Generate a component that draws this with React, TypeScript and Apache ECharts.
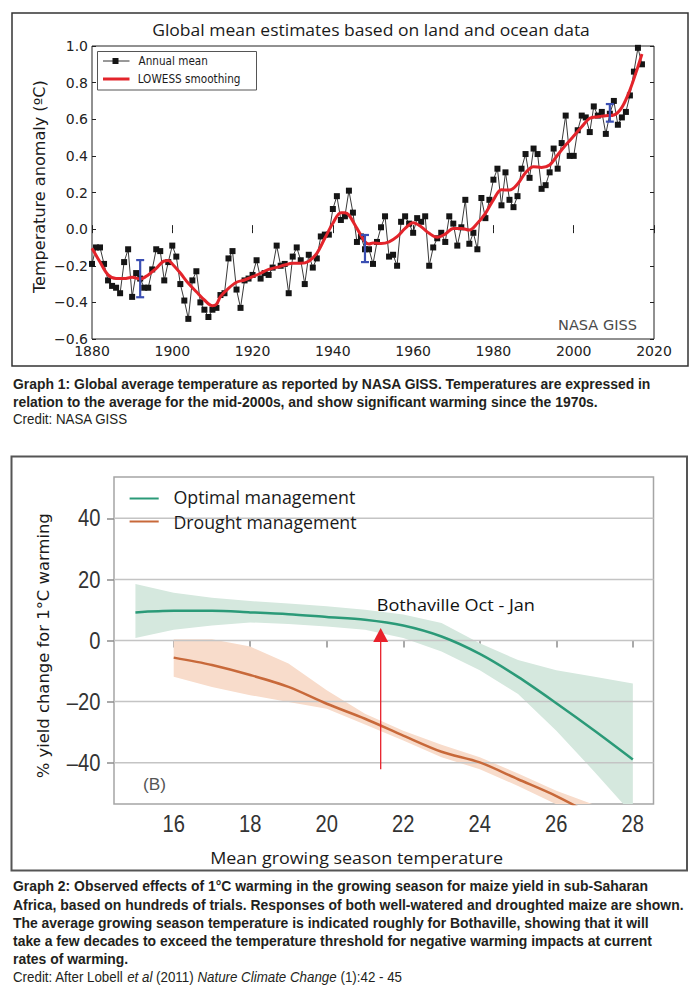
import React, { useEffect, useRef } from 'react';
import * as echarts from 'echarts';

// ---------- Graph 1 data (NASA GISS) ----------
const firstYear = 1880;
const annualMean = [
  -0.19, -0.10, -0.10, -0.19, -0.28, -0.31, -0.32, -0.35, -0.18, -0.11,
  -0.37, -0.24, -0.27, -0.32, -0.32, -0.22, -0.11, -0.12, -0.28, -0.18,
  -0.09, -0.15, -0.30, -0.39, -0.49, -0.28, -0.23, -0.40, -0.44, -0.48,
  -0.44, -0.43, -0.36, -0.35, -0.16, -0.12, -0.33, -0.43, -0.28, -0.27,
  -0.25, -0.17, -0.27, -0.24, -0.25, -0.21, -0.09, -0.20, -0.19, -0.35,
  -0.15, -0.10, -0.17, -0.30, -0.14, -0.21, -0.16, -0.04, -0.03, -0.03,
  0.11, 0.18, 0.05, 0.07, 0.21, 0.09, -0.07, -0.04, -0.11, -0.11,
  -0.19, -0.07, 0.01, 0.07, -0.15, -0.14, -0.20, 0.04, 0.07, 0.03,
  -0.02, 0.06, 0.04, 0.07, -0.20, -0.10, -0.05, -0.02, -0.07, 0.07,
  0.03, -0.09, 0.01, 0.16, -0.08, -0.02, -0.11, 0.17, 0.06, 0.16,
  0.27, 0.33, 0.13, 0.31, 0.16, 0.12, 0.18, 0.33, 0.41, 0.28,
  0.44, 0.41, 0.22, 0.24, 0.31, 0.44, 0.33, 0.47, 0.62, 0.40,
  0.40, 0.54, 0.62, 0.61, 0.53, 0.67, 0.62, 0.64, 0.52, 0.63,
  0.70, 0.57, 0.61, 0.64, 0.73, 0.86, 0.99, 0.90,
];
const lowessYears = [
  1880, 1882, 1884, 1886, 1888, 1890, 1892, 1894, 1896, 1898, 1899, 1900, 1902, 1904, 1906, 1908,
  1910, 1911, 1912, 1914, 1916, 1918, 1920, 1922, 1924, 1926, 1928, 1930, 1932, 1934, 1936, 1938,
  1940, 1942, 1943, 1944, 1946, 1948, 1949, 1950, 1952, 1954, 1956, 1958, 1960, 1962, 1964, 1966,
  1968, 1970, 1972, 1974, 1976, 1978, 1980, 1982, 1984, 1986, 1988, 1990, 1992, 1994, 1996, 1998,
  2000, 2002, 2004, 2006, 2008, 2010, 2012, 2014, 2016, 2017,
];
const lowessValues = [
  -0.105, -0.18, -0.25, -0.27, -0.27, -0.263, -0.272, -0.25, -0.214, -0.174, -0.172, -0.19, -0.24, -0.296, -0.342, -0.387,
  -0.418, -0.41, -0.369, -0.323, -0.29, -0.278, -0.26, -0.241, -0.22, -0.209, -0.196, -0.187, -0.187, -0.175, -0.132, -0.05,
  0.032, 0.09, 0.09, 0.077, 0.004, -0.069, -0.081, -0.076, -0.078, -0.069, -0.041, 0.004, 0.035, 0.013, -0.023, -0.045,
  -0.027, 0.004, 0.004, -0.005, 0.032, 0.086, 0.16, 0.215, 0.213, 0.246, 0.308, 0.341, 0.337, 0.35, 0.405, 0.459,
  0.508, 0.559, 0.605, 0.614, 0.619, 0.623, 0.665, 0.76, 0.887, 0.956,
];
const errorYears = [1892, 1948, 2009];
const errorLow = [-0.372, -0.18, 0.587];
const errorHigh = [-0.169, -0.032, 0.683];
const yearTicksMin = 1880;
const yearTicksMax = 2020;
const anomalyMin = -0.6;
const anomalyMax = 1.0;

// ---------- Graph 2 data (Lobell et al. 2011) ----------
const tempX = [15, 16, 17, 18, 19, 20, 21, 22, 23, 24, 25, 26, 27, 28];
const optimalY = [9.2, 9.7, 9.7, 9.2, 8.6, 7.7, 6.8, 4.9, 1.3, -4.4, -11.9, -20.5, -29.5, -38.9];
const optimalUpper = [18.5, 15.6, 14.0, 12.9, 12.1, 11.2, 10.1, 8.5, 5.7, -0.9, -6.4, -9.7, -11.9, -14.1];
const optimalLower = [0.8, 3.5, 4.9, 5.9, 5.4, 4.6, 3.5, 0.8, -3.6, -9.7, -17.5, -29.5, -43.0, -57.0];
const droughtX = [16, 17, 18, 19, 20, 21, 22, 23, 24, 25, 26, 27];
const droughtY = [-5.6, -8.0, -11.3, -15.2, -20.7, -25.6, -31.1, -36.4, -39.9, -45.4, -50.9, -57.5];
const droughtUpper = [0.4, 0.4, -2.0, -7.5, -16.3, -24.0, -29.5, -34.1, -38.2, -43.5, -49.2, -53.8];
const droughtLower = [-11.9, -15.2, -17.9, -20.1, -22.3, -27.5, -32.7, -38.2, -42.1, -47.6, -53.6, -60.0];
const tempTicks = [16, 18, 20, 22, 24, 26, 28];
const yieldTicks = [-40, -20, 0, 20, 40];
const arrowPoint = [21.41, -42.1, 4.1];
const tempMin = 14.44;
const tempMax = 28.54;
const yieldMin = -53.5;
const yieldMax = 53.5;

// ---------- fonts ----------
const F_CAP = "'Liberation Sans Narrow', 'Liberation Sans', Arial, sans-serif";
const F_OPEN = "'Open Sans', 'Noto Sans', sans-serif";
const F_DJ = "'DejaVu Sans', sans-serif";
const F_DJC = "'DejaVu Sans Condensed', 'DejaVu Sans', sans-serif";

let mctx: CanvasRenderingContext2D | null = null;
function measure(text: string, font: string): number {
  if (!mctx) mctx = document.createElement('canvas').getContext('2d');
  if (!mctx) return 1;
  mctx.font = font;
  return mctx.measureText(text).width || 1;
}

type TextOpts = {
  text: string;
  x: number;
  y: number;
  size: number;
  family: string;
  weight?: string;
  width?: number;
  scale?: number;
  align?: 'left' | 'center' | 'right';
  color?: string;
  rotation?: number;
  rich?: any;
  plain?: string;
};
function fontOf(o: TextOpts) {
  return `normal ${o.weight || 'normal'} ${o.size}px ${o.family}`;
}
function textEl(o: TextOpts) {
  const weight = o.weight || 'normal';
  const s = o.scale != null ? o.scale : (o.width || 1) / measure(o.plain || o.text, fontOf(o));
  const align = o.align || 'left';
  return {
    type: 'text',
    x: o.x,
    y: o.y,
    rotation: o.rotation || 0,
    scaleX: s,
    scaleY: 1,
    silent: true,
    z: 100,
    style: {
      text: o.text,
      x: 0,
      y: 0,
      fontSize: o.size,
      fontFamily: o.family,
      fontWeight: weight,
      fill: o.color || '#222',
      align,
      verticalAlign: 'middle',
      textAlign: align,
      textVerticalAlign: 'middle',
      rich: o.rich,
    },
  };
}

// caption lines: [text, y, target right-edge width]
const caption1Bold = [
  ['Graph 1: Global average temperature as reported by NASA GISS. Temperatures are expressed in', 384.3, 644],
  ['relation to the average for the mid-2000s, and show significant warming since the 1970s.', 402.3, 591],
];
const caption2Bold = [
  ['Graph 2: Observed effects of 1°C warming in the growing season for maize yield in sub-Saharan', 886, 637],
  ['Africa, based on hundreds of trials. Responses of both well-watered and droughted maize are shown.', 904.5, 675],
  ['The average growing season temperature is indicated roughly for Bothaville, showing that it will', 923, 621],
  ['take a few decades to exceed the temperature threshold for negative warming impacts at current', 941, 639],
  ['rates of warming.', 959, 0],
];

function buildOption() {
  const capColor = '#231f20';
  const capX = 13;
  const capSize = 14;
  const boldFont = `normal bold ${capSize}px ${F_CAP}`;
  const regFont = `normal normal ${capSize}px ${F_CAP}`;
  let tw = 0;
  let mw = 0;
  [...caption1Bold, ...caption2Bold].forEach((l) => {
    if ((l[2] as number) > 0) {
      tw += l[2] as number;
      mw += measure(l[0] as string, boldFont);
    }
  });
  const boldScale = tw / mw;
  const credit1 = 'Credit: NASA GISS';
  const credit2Plain = 'Credit: After Lobell et al (2011) Nature Climate Change (1):42 - 45';
  const regScale = (114 + 390) / (measure(credit1, regFont) + measure(credit2Plain, regFont));

  const graphics: any[] = [
    // frames
    { type: 'rect', shape: { x: 12, y: 13, width: 676, height: 353 }, style: { fill: 'none', stroke: '#333', lineWidth: 1.5 }, silent: true, z: 0 },
    { type: 'rect', shape: { x: 11.5, y: 456.5, width: 675.5, height: 414 }, style: { fill: 'none', stroke: '#555', lineWidth: 2 }, silent: true, z: 0 },
    // graph 1 title & axis name
    textEl({ text: 'Global mean estimates based on land and ocean data', x: 371, y: 29.5, size: 17, family: F_OPEN, width: 438, align: 'center', color: '#1a1a1a' }),
    textEl({ text: 'Temperature anomaly (ºC)', x: 39.3, y: 186.7, size: 16, family: F_DJ, width: 213, align: 'center', color: '#1a1a1a', rotation: Math.PI / 2 }),
    textEl({ text: 'NASA GISS', x: 597.5, y: 325, size: 14.5, family: F_DJ, width: 79, align: 'center', color: '#4a4a4a' }),
    // graph 1 legend
    { type: 'rect', shape: { x: 97.5, y: 51.5, width: 159, height: 38.5 }, style: { fill: '#fff', stroke: '#555', lineWidth: 1 }, silent: true, z: 90 },
    { type: 'line', shape: { x1: 103, y1: 61, x2: 129.5, y2: 61 }, style: { stroke: '#333', lineWidth: 1 }, silent: true, z: 95 },
    { type: 'rect', shape: { x: 112.5, y: 58, width: 6, height: 6 }, style: { fill: '#151515' }, silent: true, z: 96 },
    { type: 'line', shape: { x1: 103, y1: 79, x2: 129.5, y2: 79 }, style: { stroke: '#e3242b', lineWidth: 3 }, silent: true, z: 95 },
    textEl({ text: 'Annual mean', x: 138.6, y: 61, size: 11.5, family: F_DJC, width: 69.3, color: '#1a1a1a' }),
    textEl({ text: 'LOWESS smoothing', x: 137.7, y: 79, size: 11.5, family: F_DJC, width: 102.8, color: '#1a1a1a' }),
    // graph 1 caption
    ...caption1Bold.map((l) => textEl({ text: l[0] as string, x: capX, y: l[1] as number, size: capSize, family: F_CAP, weight: 'bold', scale: boldScale, color: capColor })),
    textEl({ text: credit1, x: capX, y: 419.5, size: capSize, family: F_CAP, scale: regScale, color: capColor }),
    // graph 2 legend
    { type: 'line', shape: { x1: 129.6, y1: 498.5, x2: 158.7, y2: 498.5 }, style: { stroke: '#2b9a78', lineWidth: 2 }, silent: true, z: 95 },
    { type: 'line', shape: { x1: 129.6, y1: 521.5, x2: 158.7, y2: 521.5 }, style: { stroke: '#c8693a', lineWidth: 2 }, silent: true, z: 95 },
    textEl({ text: 'Optimal management', x: 173.4, y: 497, size: 18, family: F_OPEN, width: 182, color: '#1a1a1a' }),
    textEl({ text: 'Drought management', x: 173.4, y: 522, size: 18, family: F_OPEN, width: 183.3, color: '#1a1a1a' }),
    textEl({ text: 'Bothaville Oct - Jan', x: 376.8, y: 604, size: 17, family: F_OPEN, width: 158.2, color: '#111' }),
    textEl({ text: '(B)', x: 154.5, y: 785, size: 16, family: F_CAP, width: 23, align: 'center', color: '#555' }),
    textEl({ text: 'Mean growing season temperature', x: 356.6, y: 857, size: 17, family: F_OPEN, width: 293, align: 'center', color: '#1a1a1a' }),
    textEl({ text: '% yield change for 1°C warming', x: 43.4, y: 645.8, size: 16.4, family: F_DJ, width: 265, align: 'center', color: '#1a1a1a', rotation: Math.PI / 2 }),
    // graph 2 caption
    ...caption2Bold.map((l) => textEl({ text: l[0] as string, x: capX, y: l[1] as number, size: capSize, family: F_CAP, weight: 'bold', scale: boldScale, color: capColor })),
    textEl({
      text: 'Credit: After Lobell {i|et al} (2011) {i|Nature Climate Change} (1):42 - 45',
      x: capX, y: 977, size: capSize, family: F_CAP, scale: regScale, color: capColor,
      rich: { i: { fontStyle: 'italic', fontSize: capSize, fontFamily: F_CAP, fill: capColor } },
    }),
  ];

  const g1Tick = { inside: true, length: 4, lineStyle: { color: '#222', width: 1 } };
  const g2Tick = { inside: false, length: 7, lineStyle: { color: '#8c8c8c', width: 1.5 } };
  const tickLabelScale = 0.84;

  const band = (xs: number[], lo: number[], hi: number[], fill: string, name: string) => ({
    type: 'custom',
    name,
    xAxisIndex: 2,
    yAxisIndex: 2,
    clip: true,
    silent: true,
    z: 1,
    data: xs.map((x, i) => [x, lo[i], hi[i]]),
    encode: { x: 0, y: [1, 2] },
    renderItem: (params: any, api: any) => {
      if (params.dataIndex !== 0) return null;
      const pts: number[][] = [];
      for (let i = 0; i < xs.length; i++) pts.push(api.coord([xs[i], hi[i]]));
      for (let i = xs.length - 1; i >= 0; i--) pts.push(api.coord([xs[i], lo[i]]));
      return { type: 'polygon', shape: { points: pts }, style: { fill } };
    },
  });

  return {
    animation: false,
    backgroundColor: '#ffffff',
    grid: [
      { left: 92, top: 46, width: 562, height: 293, show: true, borderColor: '#222', borderWidth: 1, backgroundColor: 'transparent' },
      { left: 114, top: 477, width: 539.5, height: 327, show: true, borderColor: '#a5a5a5', borderWidth: 1.5, backgroundColor: 'transparent' },
    ],
    xAxis: [
      {
        type: 'value', gridIndex: 0, min: yearTicksMin, max: yearTicksMax, interval: 20, position: 'bottom',
        axisLine: { show: false }, axisTick: g1Tick, splitLine: { show: false },
        axisLabel: { fontFamily: F_DJ, fontSize: 14, color: '#222', margin: 5, formatter: (v: number) => String(v) },
      },
      {
        type: 'value', gridIndex: 0, min: yearTicksMin, max: yearTicksMax, interval: 20, position: 'top',
        axisLine: { show: false }, axisTick: g1Tick, splitLine: { show: false }, axisLabel: { show: false },
      },
      {
        type: 'value', gridIndex: 1, min: tempMin, max: tempMax, position: 'bottom',
        axisLine: { show: false }, splitLine: { show: false },
        axisTick: { ...g2Tick, customValues: tempTicks },
        axisLabel: { show: false },
      },
    ],
    yAxis: [
      {
        type: 'value', gridIndex: 0, min: anomalyMin, max: anomalyMax, interval: 0.2, position: 'left',
        axisLine: { show: false }, axisTick: g1Tick, splitLine: { show: false },
        axisLabel: {
          fontFamily: F_DJ, fontSize: 14, color: '#222', margin: 4,
          formatter: (v: number) => v.toFixed(1).replace('-', '\u2212'),
        },
      },
      {
        type: 'value', gridIndex: 0, min: anomalyMin, max: anomalyMax, interval: 0.2, position: 'right',
        axisLine: { show: false }, axisTick: g1Tick, splitLine: { show: false }, axisLabel: { show: false },
      },
      {
        type: 'value', gridIndex: 1, min: yieldMin, max: yieldMax, position: 'left',
        axisLine: { show: false }, splitLine: { show: false },
        axisTick: { ...g2Tick, customValues: yieldTicks },
        axisLabel: { show: false },
      },
    ],
    graphic: graphics,
    series: [
      {
        type: 'line', name: 'Annual mean', xAxisIndex: 0, yAxisIndex: 0,
        data: annualMean.map((v, i) => [firstYear + i, v]),
        symbol: 'rect', symbolSize: 6, showSymbol: true,
        itemStyle: { color: '#151515' }, lineStyle: { color: '#3a3a3a', width: 1 }, z: 2, silent: true,
      },
      {
        type: 'line', name: 'LOWESS smoothing', xAxisIndex: 0, yAxisIndex: 0,
        data: lowessYears.map((y, i) => [y, lowessValues[i]]),
        smooth: 0.35, symbol: 'none', showSymbol: false,
        lineStyle: { color: '#e3242b', width: 3 }, z: 3, silent: true,
      },
      {
        type: 'custom', name: 'Uncertainty', xAxisIndex: 0, yAxisIndex: 0, z: 4, silent: true,
        data: errorYears.map((y, i) => [y, errorLow[i], errorHigh[i]]),
        encode: { x: 0, y: [1, 2] },
        renderItem: (params: any, api: any) => {
          const lo = api.coord([api.value(0), api.value(1)]);
          const hi = api.coord([api.value(0), api.value(2)]);
          const cw = 4;
          const st = { stroke: '#3b4fb3', lineWidth: 2.2 };
          return {
            type: 'group',
            children: [
              { type: 'line', shape: { x1: lo[0], y1: lo[1], x2: hi[0], y2: hi[1] }, style: st },
              { type: 'line', shape: { x1: lo[0] - cw, y1: lo[1], x2: lo[0] + cw, y2: lo[1] }, style: st },
              { type: 'line', shape: { x1: hi[0] - cw, y1: hi[1], x2: hi[0] + cw, y2: hi[1] }, style: st },
            ],
          };
        },
      },
      band(tempX, optimalLower, optimalUpper, '#d5e8de', 'Optimal band'),
      band(droughtX, droughtLower, droughtUpper, '#f8dccb', 'Drought band'),
      {
        type: 'custom', name: 'Gridlines', xAxisIndex: 2, yAxisIndex: 2, z: 2, silent: true,
        data: yieldTicks.map((v) => [tempX[0], v]),
        encode: { x: 0, y: 1 },
        renderItem: (params: any, api: any) => {
          const cs = params.coordSys;
          const p = api.coord([api.value(0), api.value(1)]);
          return {
            type: 'line',
            shape: { x1: cs.x, y1: p[1], x2: cs.x + cs.width, y2: p[1] },
            style: { stroke: '#c4c4c4', lineWidth: 1.5 },
          };
        },
      },
      {
        type: 'custom', name: 'Temperature labels', xAxisIndex: 2, yAxisIndex: 2, z: 5, silent: true, clip: false,
        data: tempTicks.map((t) => [t, yieldMin]),
        encode: { x: 0, y: 1 },
        renderItem: (params: any, api: any) => {
          const p = api.coord([api.value(0), api.value(1)]);
          return {
            type: 'text', x: p[0], y: p[1] + 19.5, scaleX: tickLabelScale,
            style: { text: String(api.value(0)), fontSize: 24, fontFamily: F_CAP, fill: '#333', align: 'center', verticalAlign: 'middle', textAlign: 'center', textVerticalAlign: 'middle' },
          };
        },
      },
      {
        type: 'custom', name: 'Yield labels', xAxisIndex: 2, yAxisIndex: 2, z: 5, silent: true, clip: false,
        data: yieldTicks.map((v) => [tempMin, v]),
        encode: { x: 0, y: 1 },
        renderItem: (params: any, api: any) => {
          const p = api.coord([api.value(0), api.value(1)]);
          const v = api.value(1);
          return {
            type: 'text', x: p[0] - 13.5, y: p[1], scaleX: tickLabelScale,
            style: { text: v < 0 ? '\u2013' + Math.abs(v) : String(v), fontSize: 24, fontFamily: F_CAP, fill: '#333', align: 'right', verticalAlign: 'middle', textAlign: 'right', textVerticalAlign: 'middle' },
          };
        },
      },
      {
        type: 'line', name: 'Optimal management', xAxisIndex: 2, yAxisIndex: 2,
        data: tempX.map((x, i) => [x, optimalY[i]]), smooth: 0.3, symbol: 'none',
        lineStyle: { color: '#2b9a78', width: 2.5 }, z: 3, silent: true, clip: true,
      },
      {
        type: 'line', name: 'Drought management', xAxisIndex: 2, yAxisIndex: 2,
        data: droughtX.map((x, i) => [x, droughtY[i]]), smooth: 0.3, symbol: 'none',
        lineStyle: { color: '#c8693a', width: 2.5 }, z: 3, silent: true, clip: true,
      },
      {
        type: 'custom', name: 'Bothaville', xAxisIndex: 2, yAxisIndex: 2, z: 4, silent: true,
        data: [arrowPoint],
        encode: { x: 0, y: [1, 2] },
        renderItem: (params: any, api: any) => {
          const base = api.coord([api.value(0), api.value(1)]);
          const tip = api.coord([api.value(0), api.value(2)]);
          const hh = 14;
          const hw = 7.5;
          return {
            type: 'group',
            children: [
              { type: 'line', shape: { x1: base[0], y1: base[1], x2: tip[0], y2: tip[1] + hh }, style: { stroke: '#e8212b', lineWidth: 1.3 } },
              { type: 'polygon', shape: { points: [[tip[0], tip[1]], [tip[0] - hw, tip[1] + hh], [tip[0] + hw, tip[1] + hh]] }, style: { fill: '#e8212b' } },
            ],
          };
        },
      },
    ],
  };
}

export default function App() {
  const ref = useRef<HTMLDivElement>(null);
  useEffect(() => {
    if (!ref.current) return;
    const chart = echarts.init(ref.current, null, { renderer: 'svg', width: 700, height: 1004 });
    chart.setOption(buildOption() as any);
    return () => chart.dispose();
  }, []);
  return (
    <div
      ref={ref}
      style={{ position: 'absolute', left: 0, top: 0, width: 700, height: 1004, background: '#fff' }}
    />
  );
}
